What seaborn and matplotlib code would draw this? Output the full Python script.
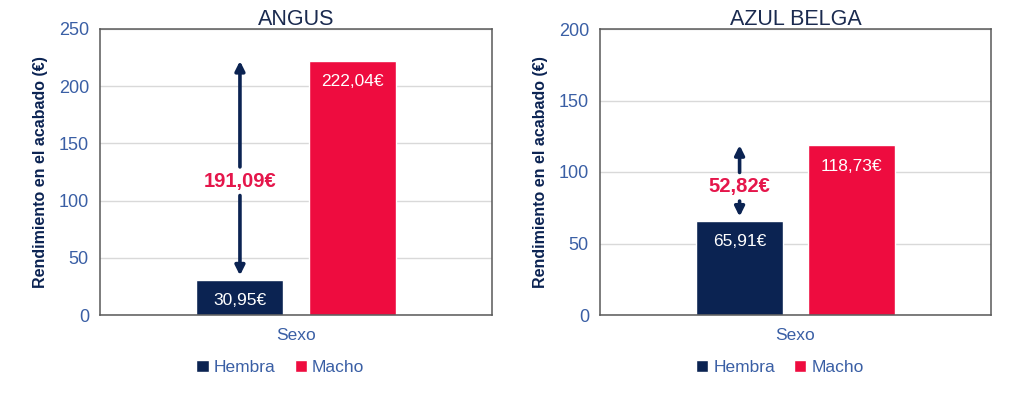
import pandas as pd
import matplotlib.pyplot as plt
import seaborn as sns

# Data
razas = ["ANGUS", "AZUL BELGA"]
sexos = ["Hembra", "Macho"]
angus_valores = [30.95, 222.04]
azul_valores = [65.91, 118.73]
y_maximos = [250, 200]
grupo = "Sexo"

navy = "#0B2352"
red = "#EE0C3F"
tick_blue = "#3A5FA5"
diff_red = "#E5164B"

sns.set_style("white")
plt.rcParams["font.family"] = ["Liberation Sans", "DejaVu Sans"]

fig = plt.figure(figsize=(10.24, 3.98), dpi=100)
ax1 = fig.add_axes([100 / 1024, 83 / 398, 392 / 1024, 286 / 398])
ax2 = fig.add_axes([600 / 1024, 83 / 398, 391 / 1024, 286 / 398])

datos = [angus_valores, azul_valores]

for ax, raza, valores, ymax in zip([ax1, ax2], razas, datos, y_maximos):
    df = pd.DataFrame({"grupo": [grupo] * len(sexos), "sexo": sexos, "valor": valores})

    sns.barplot(
        data=df, x="grupo", y="valor", hue="sexo",
        palette=[navy, red], width=0.572, gap=0.224,
        saturation=1, ax=ax, legend=True,
    )

    # Value labels inside the bars
    for container, v in zip(ax.containers, valores):
        bar = container.patches[0]
        cx = bar.get_x() + bar.get_width() / 2
        ax.annotate(f"{v:.2f}€".replace(".", ","), xy=(cx, v), xytext=(0, -15),
                    textcoords="offset points", ha="center", va="center",
                    color="white", fontsize=12.5)

    # Difference arrow over the Hembra bar
    hembra_bar = ax.containers[0].patches[0]
    ax_x = hembra_bar.get_x() + hembra_bar.get_width() / 2
    bajo, alto = min(valores), max(valores)
    medio = bajo + 0.45 * (alto - bajo)
    hueco = 0.05 * ymax
    estilo = dict(arrowstyle="-|>", color=navy, lw=2.6, mutation_scale=14,
                  shrinkA=0, shrinkB=0)
    ax.annotate("", xy=(ax_x, alto), xytext=(ax_x, medio + hueco), arrowprops=estilo)
    estilo_bajo = dict(estilo, shrinkB=3)
    ax.annotate("", xy=(ax_x, bajo), xytext=(ax_x, medio - hueco), arrowprops=estilo_bajo)
    ax.text(ax_x, medio, f"{alto - bajo:.2f}€".replace(".", ","), ha="center", va="center",
            color=diff_red, fontsize=14.5, fontweight="bold")

    ax.set_ylim(0, ymax)
    ax.set_yticks(range(0, ymax + 1, 50))
    ax.yaxis.grid(True, color="#D9D9D9", lw=1)
    ax.set_axisbelow(True)
    ax.tick_params(axis="both", length=0, labelsize=13, labelcolor=tick_blue, pad=8)
    ax.tick_params(axis="x", labelsize=12.5, pad=9)
    for s in ax.spines.values():
        s.set_visible(True)
        s.set_color("#595959")
        s.set_linewidth(1.1)

    ax.set_xlabel("")
    ax.set_ylabel("Rendimiento en el acabado (€)", fontsize=11.5, fontweight="bold",
                  color=navy, labelpad=8)
    ax.set_title(raza, fontsize=15.5, color="#1A2A4F", pad=3)

    handles, labels = ax.get_legend_handles_labels()
    ax.legend(handles, labels, loc="center", bbox_to_anchor=(0.46, -0.185), ncol=2,
              frameon=False, handlelength=0.7, handleheight=0.7, handletextpad=0.3,
              columnspacing=1.1, fontsize=12.5, labelcolor=tick_blue)

fig.savefig("out.png", dpi=100)
